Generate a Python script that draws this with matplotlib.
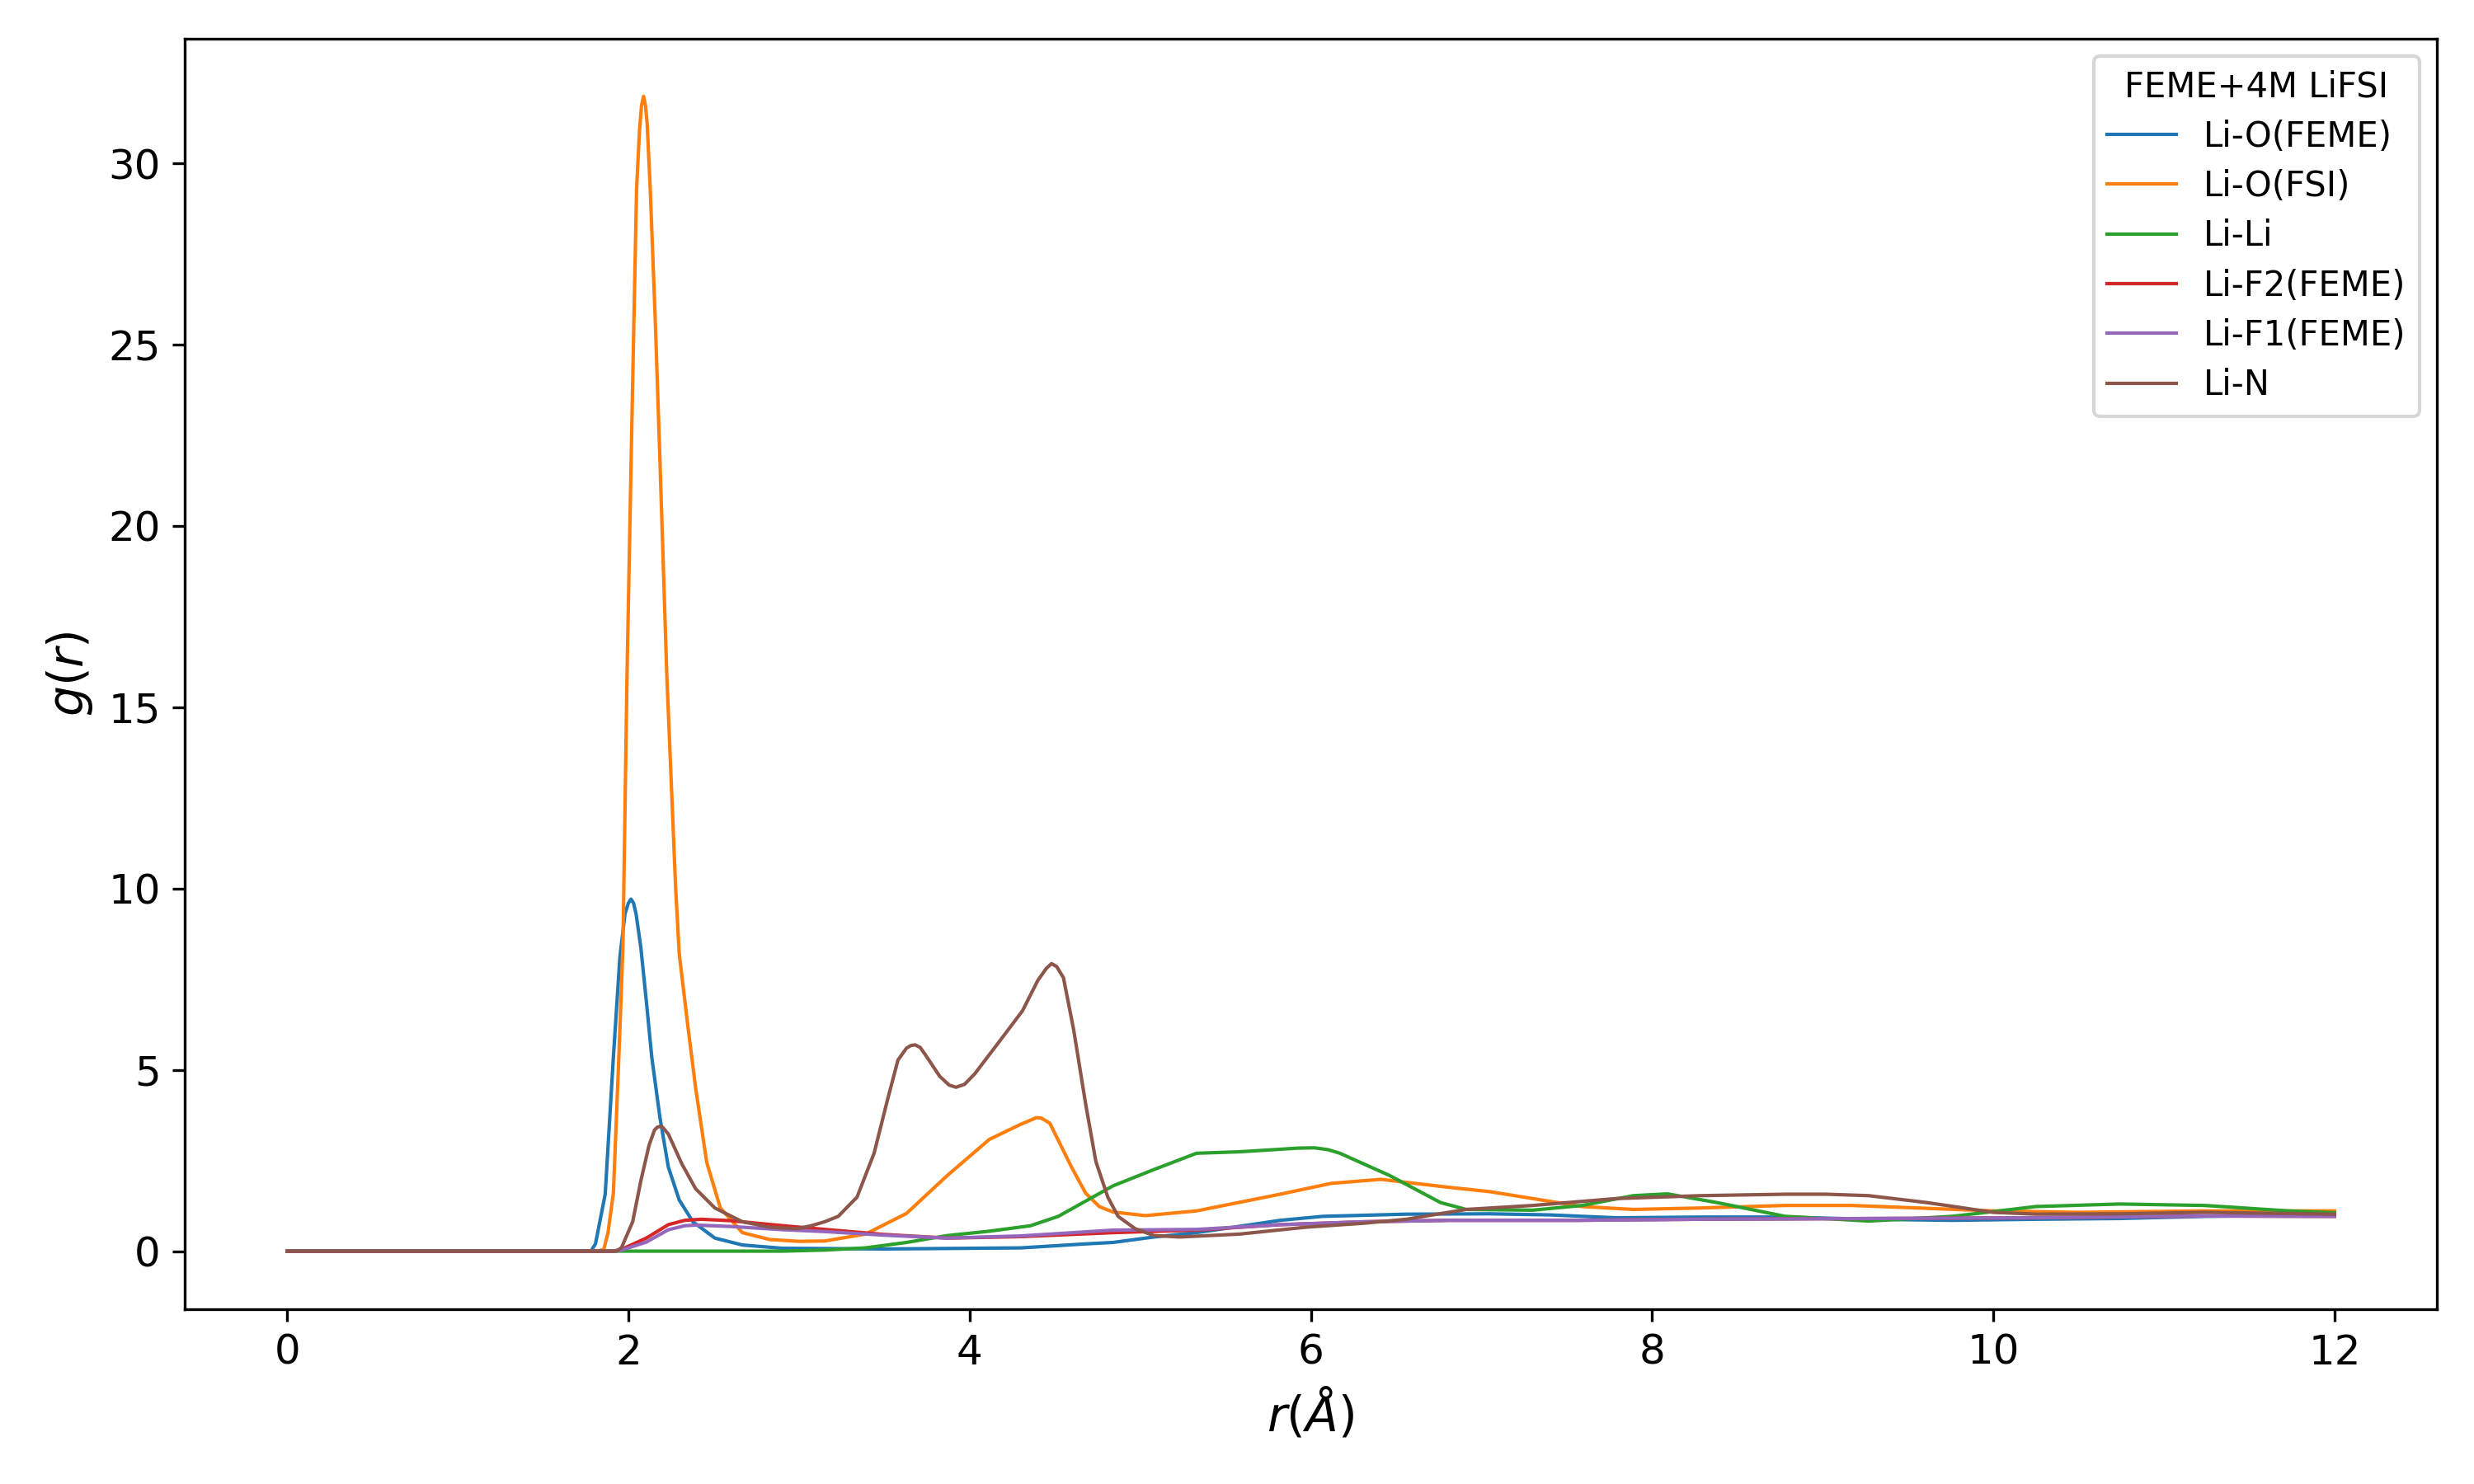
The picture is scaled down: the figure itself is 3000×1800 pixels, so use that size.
import matplotlib
matplotlib.use("Agg")
import matplotlib.pyplot as plt

# g(r) curves (r in Angstrom)
r_LiO_FEME = [0, 1.78, 1.807, 1.864, 1.912, 1.95, 1.98, 2.0, 2.015, 2.03, 2.045, 2.073,
              2.105, 2.137, 2.185, 2.234, 2.298, 2.378, 2.507, 2.668, 2.9, 3.5, 4.3, 4.68,
              4.84, 5.08, 5.33, 5.82, 6.07, 6.56, 7.05, 7.40, 7.79, 8.28, 8.78, 9.27, 9.76,
              10.25, 10.74, 11.24, 12.0]
g_LiO_FEME = [0, 0, 0.2, 1.57, 5.35, 8.1, 9.3, 9.6, 9.71, 9.6, 9.3, 8.37,
              6.9, 5.35, 3.68, 2.32, 1.41, 0.81, 0.36, 0.17, 0.08, 0.06, 0.09, 0.2,
              0.24, 0.39, 0.51, 0.85, 0.96, 1.02, 1.03, 1.0, 0.92, 0.94, 0.94, 0.88, 0.85,
              0.88, 0.90, 0.96, 1.0]

r_LiO_FSI = [0, 1.82, 1.856, 1.88, 1.912, 1.944, 1.968, 1.992, 2.016, 2.032, 2.048, 2.065,
             2.077, 2.089, 2.10, 2.11, 2.128, 2.158, 2.185, 2.225, 2.277, 2.298, 2.346,
             2.394, 2.459, 2.539, 2.668, 2.829, 3.0, 3.15, 3.39, 3.63, 3.87, 4.115, 4.30,
             4.356, 4.39, 4.42, 4.47, 4.597, 4.68, 4.76, 4.84, 5.03, 5.33, 5.82, 6.12,
             6.41, 6.61, 6.81, 7.05, 7.30, 7.59, 7.89, 8.28, 8.78, 9.17, 9.56, 10.0, 10.5,
             11.24, 12.0]
g_LiO_FSI = [0, 0, 0.05, 0.5, 1.6, 5.35, 8.4, 15.9, 21.8, 25.6, 29.3, 30.9,
             31.6, 31.85, 31.6, 31.1, 29.3, 25.6, 21.8, 15.9, 10.0, 8.2, 6.3,
             4.5, 2.45, 1.19, 0.51, 0.32, 0.27, 0.28, 0.47, 1.04, 2.09, 3.08, 3.5,
             3.61, 3.68, 3.67, 3.53, 2.32, 1.60, 1.23, 1.08, 0.98, 1.11, 1.57, 1.87,
             1.98, 1.87, 1.76, 1.64, 1.45, 1.23, 1.15, 1.19, 1.26, 1.26, 1.19, 1.11, 1.07,
             1.11, 1.11]

r_LiLi = [0, 2.9, 3.15, 3.39, 3.63, 3.87, 4.115, 4.356, 4.52, 4.68, 4.84, 5.08, 5.33,
          5.58, 5.82, 5.92, 6.02, 6.1, 6.17, 6.46, 6.76, 6.91, 7.30, 7.59, 7.89, 8.09,
          8.38, 8.78, 9.27, 9.76, 10.25, 10.74, 11.24, 11.73, 12.0]
g_LiLi = [0, 0, 0.03, 0.09, 0.24, 0.43, 0.55, 0.70, 0.96, 1.38, 1.80, 2.25, 2.70,
          2.74, 2.81, 2.84, 2.85, 2.80, 2.70, 2.09, 1.34, 1.15, 1.13, 1.26, 1.53, 1.58,
          1.34, 0.96, 0.83, 0.96, 1.23, 1.30, 1.26, 1.11, 1.06]

r_LiF2 = [0, 1.91, 1.96, 2.105, 2.234, 2.33, 2.426, 2.6, 2.91, 3.15, 3.5, 3.87, 4.3,
          4.84, 5.33, 5.82, 6.31, 6.81, 7.55, 8.28, 9.27, 10.25, 11.24, 12.0]
g_LiF2 = [0, 0, 0.05, 0.36, 0.73, 0.85, 0.88, 0.84, 0.70, 0.60, 0.46, 0.36, 0.40,
          0.51, 0.58, 0.73, 0.81, 0.85, 0.85, 0.88, 0.90, 0.92, 0.97, 0.96]

r_LiF1 = [0, 1.91, 1.96, 2.105, 2.234, 2.33, 2.394, 2.6, 2.91, 3.15, 3.5, 3.87, 4.3,
          4.84, 5.33, 5.82, 6.31, 6.81, 7.55, 8.28, 9.27, 10.25, 11.24, 12.0]
g_LiF1 = [0, 0, 0.03, 0.25, 0.59, 0.70, 0.72, 0.68, 0.59, 0.54, 0.44, 0.36, 0.42,
          0.58, 0.60, 0.73, 0.81, 0.85, 0.85, 0.88, 0.90, 0.92, 0.97, 0.96]

r_LiN = [0, 1.93, 1.96, 2.025, 2.073, 2.121, 2.153, 2.17, 2.185, 2.20, 2.234, 2.314,
         2.394, 2.507, 2.668, 2.829, 2.989, 3.07, 3.15, 3.23, 3.34, 3.44, 3.52, 3.58,
         3.63, 3.655, 3.68, 3.71, 3.74, 3.825, 3.88, 3.92, 3.97, 4.03, 4.19, 4.31, 4.40,
         4.45, 4.48, 4.51, 4.55, 4.61, 4.68, 4.74, 4.81, 4.87, 4.97, 5.08, 5.23, 5.58,
         5.97, 6.31, 6.56, 6.91, 7.30, 7.79, 8.28, 8.78, 9.02, 9.27, 9.61, 10.0, 10.25,
         10.74, 11.24, 12.0]
g_LiN = [0, 0, 0.1, 0.81, 1.94, 2.92, 3.34, 3.42, 3.44, 3.42, 3.23, 2.40,
         1.72, 1.19, 0.81, 0.66, 0.62, 0.70, 0.81, 0.96, 1.49, 2.70, 4.2, 5.27,
         5.6, 5.67, 5.69, 5.62, 5.42, 4.82, 4.58, 4.52, 4.6, 4.89, 5.88, 6.63, 7.47,
         7.8, 7.93, 7.85, 7.54, 6.1, 4.06, 2.47, 1.49, 0.96, 0.62, 0.43, 0.39, 0.47,
         0.66, 0.77, 0.88, 1.15, 1.26, 1.45, 1.53, 1.57, 1.57, 1.53, 1.34, 1.07, 1.02,
         1.03, 1.07, 1.02]

fig, ax = plt.subplots(figsize=(10, 6))

ax.plot(r_LiO_FEME, g_LiO_FEME, color='tab:blue', lw=1, label='Li-O(FEME)')
ax.plot(r_LiO_FSI, g_LiO_FSI, color='tab:orange', lw=1, label='Li-O(FSI)')
ax.plot(r_LiLi, g_LiLi, color='tab:green', lw=1, label='Li-Li')
ax.plot(r_LiF2, g_LiF2, color='tab:red', lw=1, label='Li-F2(FEME)')
ax.plot(r_LiF1, g_LiF1, color='tab:purple', lw=1, label='Li-F1(FEME)')
ax.plot(r_LiN, g_LiN, color='tab:brown', lw=1, label='Li-N')

ax.set_xlabel(r'$r(\AA)$', fontsize=14)
ax.set_ylabel(r'$g(r)$', fontsize=14)
ax.tick_params(labelsize=12)
ax.legend(title='FEME+4M LiFSI', fontsize=10, title_fontsize=10, loc='upper right',
          labelspacing=0.44)

plt.subplots_adjust(left=0.0747, right=0.985, top=0.974, bottom=0.118)
plt.savefig('out.png', dpi=300)
